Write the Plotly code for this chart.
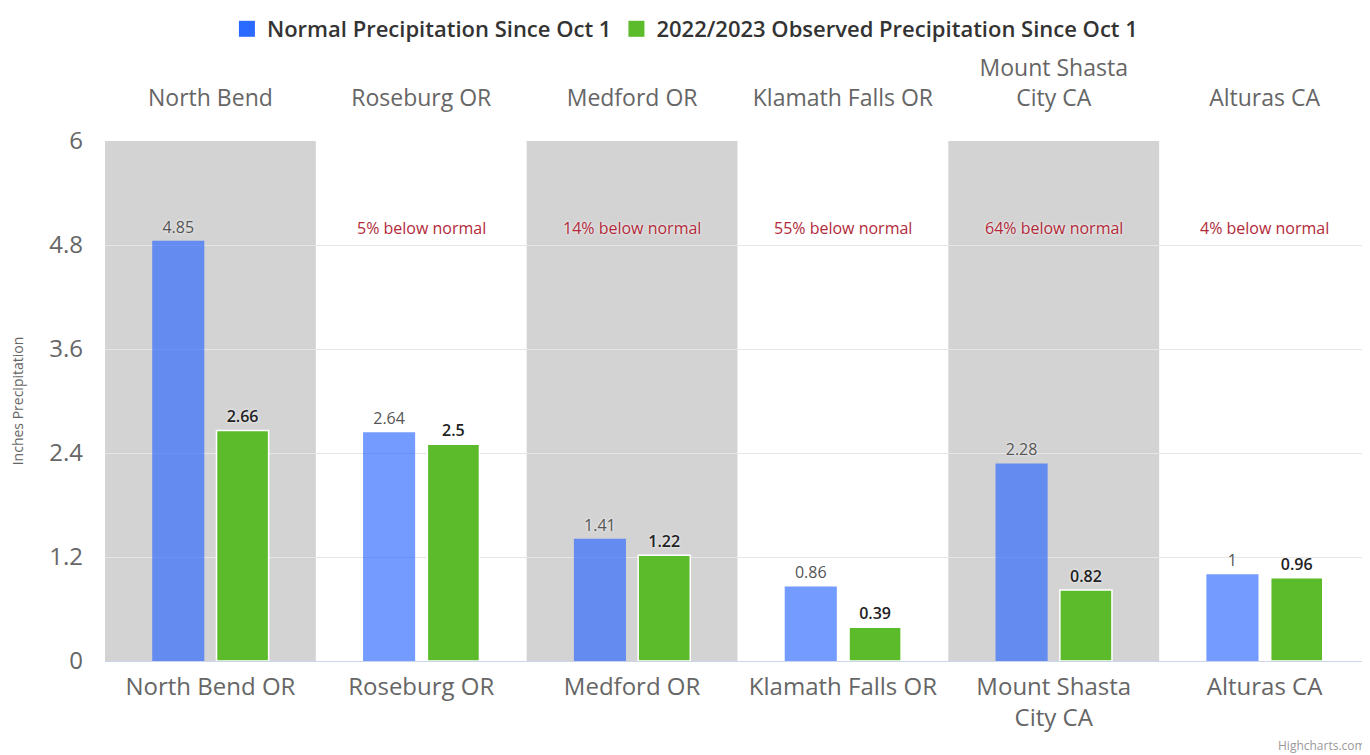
import plotly.graph_objects as go

stations = ["North Bend OR", "Roseburg OR", "Medford OR", "Klamath Falls OR",
            "Mount Shasta<br>City CA", "Alturas CA"]
top_labels = ["North Bend", "Roseburg OR", "Medford OR", "Klamath Falls OR",
              "Mount Shasta<br>City CA", "Alturas CA"]
normal = [4.85, 2.64, 1.41, 0.86, 2.28, 1.0]
observed = [2.66, 2.5, 1.22, 0.39, 0.82, 0.96]
notes = ["", "5% below normal", "14% below normal", "55% below normal",
         "64% below normal", "4% below normal"]
note_level = 5.0
y_ticks = [0, 1.2, 2.4, 3.6, 4.8, 6]
series_names = ["Normal Precipitation Since Oct 1",
                "2022/2023 Observed Precipitation Since Oct 1"]
legend_colors = ["#2a6aff", "#5bbb2a"]

FONT = "Open Sans, DejaVu Sans, sans-serif"
idx = list(range(len(stations)))

fig = go.Figure()
fig.add_trace(go.Bar(
    x=idx, y=normal, name=series_names[0], showlegend=False,
    marker=dict(color="rgba(37,99,255,0.64)", line=dict(width=0)),
    text=[f"{v:g}" for v in normal], textposition="outside",
    textfont=dict(size=16, color="#555555", family=FONT, shadow="0px 0px 3px white"),
    cliponaxis=False,
))
fig.add_trace(go.Bar(
    x=idx, y=observed, name=series_names[1], showlegend=False,
    marker=dict(color="#5bbb2a", line=dict(width=1.5, color="white")),
    text=[f"{v:g}" for v in observed], textposition="outside",
    textfont=dict(size=16, color="#222222", family=FONT, weight=600, shadow="0px 0px 3px white"),
    cliponaxis=False,
))
# legend entries with larger square symbols
for nm, col in zip(series_names, legend_colors):
    fig.add_trace(go.Scatter(x=[None], y=[None], mode="markers", name=nm,
                             marker=dict(symbol="square", size=16, color=col)))
# invisible trace for the top axis
fig.add_trace(go.Scatter(x=idx, y=[0]*len(idx), xaxis="x2", mode="markers",
                         marker=dict(opacity=0), showlegend=False, hoverinfo="skip"))

shapes = []
for i in idx:
    if i % 2 == 0:
        shapes.append(dict(type="rect", xref="x", yref="paper", x0=i-0.5, x1=i+0.5,
                           y0=0, y1=1, fillcolor="#d3d3d3", line=dict(width=0), layer="below"))
annotations = []
for i, t in zip(idx, notes):
    if t:
        annotations.append(dict(x=i, y=note_level, xref="x", yref="y", text=t, showarrow=False,
                                font=dict(size=16, color="#b22a3a", family=FONT,
                                          shadow="0px 0px 3px white")))
annotations.append(dict(x=1, y=0, xref="paper", yref="paper", xanchor="right", yanchor="middle",
                        xshift=-2, yshift=-84, text="Highcharts.com", showarrow=False,
                        font=dict(size=12, color="#999999", family=FONT)))

# the page body adds an 8px offset, so the figure is 1362x747
fig.update_layout(
    width=1362, height=747,
    margin=dict(l=97, r=0, t=133, b=94),
    paper_bgcolor="white", plot_bgcolor="white",
    barmode="group", bargap=0.39, bargroupgap=0.19,
    font=dict(family=FONT, color="#666666"),
    shapes=shapes, annotations=annotations,
    legend=dict(orientation="h", x=0.497, xanchor="center", xref="container",
                y=1.0, yanchor="top", yref="container",
                font=dict(size=22, color="#333333", family=FONT, weight=600),
                itemwidth=30, traceorder="normal"),
    xaxis=dict(range=[-0.5, 5.5], tickmode="array", tickvals=idx, ticktext=stations,
               tickfont=dict(size=24, color="#666666"), showgrid=False, automargin=False,
               showline=True, linecolor="#ccd6eb", linewidth=1, ticks="", zeroline=False,
               ticklabelstandoff=4),
    xaxis2=dict(range=[-0.5, 5.5], overlaying="x", side="top", tickmode="array",
                tickvals=idx, ticktext=top_labels, tickfont=dict(size=23, color="#666666"),
                showgrid=False, showline=False, ticks="", zeroline=False, automargin=False,
                ticklabelstandoff=29),
    yaxis=dict(range=[0, 6], tickmode="array", tickvals=y_ticks,
               ticktext=[f"{v:g}" for v in y_ticks], automargin=False,
               tickfont=dict(size=24, color="#666666"), gridcolor="#e6e6e6",
               zeroline=False, ticklabelstandoff=21,
               title=dict(text="Inches Precipitation", font=dict(size=14, color="#666666"),
                          standoff=23)),
)
fig.write_html("out.html")
